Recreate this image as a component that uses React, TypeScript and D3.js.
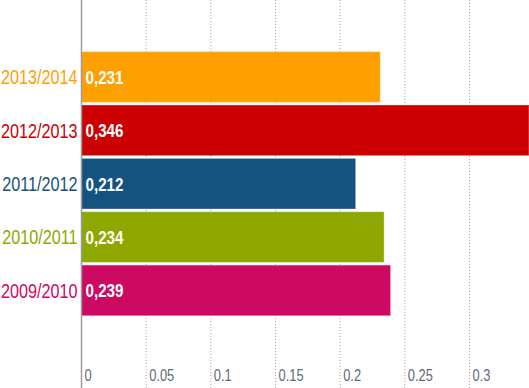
import React, { useEffect, useRef } from 'react';
import * as d3 from 'd3';

const seasons = ['2013/2014', '2012/2013', '2011/2012', '2010/2011', '2009/2010'];
const values = [0.231, 0.346, 0.212, 0.234, 0.239];
const colors = ['#FFA000', '#CC0000', '#145380', '#8FA800', '#CC0A62'];
const tickValues = [0, 0.05, 0.1, 0.15, 0.2, 0.25, 0.3];

const W = 529;
const H = 388;
const FONT = '"Liberation Sans", Arial, sans-serif';

const App: React.FC = () => {
  const ref = useRef<SVGSVGElement>(null);

  useEffect(() => {
    const svg = d3.select(ref.current);
    svg.selectAll('*').remove();

    const x = d3.scaleLinear().domain([0, 0.346]).range([81.5, W]);
    const y = d3.scaleBand<string>()
      .domain(seasons)
      .range([50.3, 317.1])
      .paddingInner(0.05)
      .paddingOuter(0.025);

    // dotted grid
    svg.append('g')
      .selectAll('line')
      .data(tickValues.slice(1))
      .enter()
      .append('line')
      .attr('x1', d => x(d))
      .attr('x2', d => x(d))
      .attr('y1', 0)
      .attr('y2', H)
      .attr('stroke', '#a8a8a8')
      .attr('stroke-width', 1)
      .attr('stroke-dasharray', '1,2');

    // bars
    svg.append('g')
      .selectAll('rect')
      .data(seasons)
      .enter()
      .append('rect')
      .attr('x', x(0))
      .attr('y', d => y(d)!)
      .attr('width', (d, i) => x(values[i]) - x(0))
      .attr('height', y.bandwidth())
      .attr('fill', (d, i) => colors[i])
      .attr('stroke', 'rgba(255,255,255,0.35)')
      .attr('stroke-width', 1);

    // axis line
    svg.append('line')
      .attr('x1', x(0))
      .attr('x2', x(0))
      .attr('y1', 0)
      .attr('y2', H)
      .attr('stroke', '#9a9a9a')
      .attr('stroke-width', 1.5);

    // category labels (narrowed horizontally like the original condensed face)
    svg.append('g')
      .selectAll('text')
      .data(seasons)
      .enter()
      .append('text')
      .attr('transform', d => `translate(${x(0) - 4},${y(d)! + y.bandwidth() / 2}) scale(0.81,1)`)
      .attr('dy', '0.36em')
      .attr('text-anchor', 'end')
      .style('font-family', FONT)
      .style('font-size', '20px')
      .attr('fill', (d, i) => colors[i])
      .text(d => d);

    // value labels
    svg.append('g')
      .selectAll('text')
      .data(seasons)
      .enter()
      .append('text')
      .attr('transform', d => `translate(${x(0) + 4},${y(d)! + y.bandwidth() / 2}) scale(0.8,1)`)
      .attr('dy', '0.36em')
      .style('font-family', FONT)
      .style('font-size', '19px')
      .style('font-weight', 'bold')
      .attr('fill', '#fff')
      .text((d, i) => String(values[i]).replace('.', ','));

    // tick labels
    svg.append('g')
      .selectAll('text')
      .data(tickValues)
      .enter()
      .append('text')
      .attr('transform', d => `translate(${x(d) + 3},381) scale(0.78,1)`)
      .style('font-family', FONT)
      .style('font-size', '16.5px')
      .attr('fill', '#5f6b78')
      .text(d => String(d));
  }, []);

  return (
    <svg
      ref={ref}
      width={W}
      height={H}
      style={{ position: 'absolute', left: 0, top: 0, background: '#fff' }}
    />
  );
};

export default App;
